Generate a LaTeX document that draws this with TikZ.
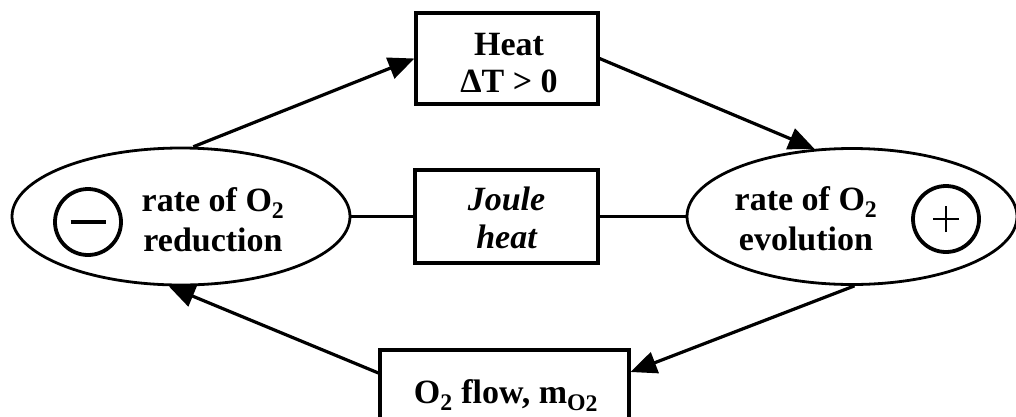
\documentclass[tikz,border=0pt]{standalone}
\usepackage{fontspec}
\setmainfont{Liberation Serif}
\usetikzlibrary{shapes.geometric,arrows.meta}
\begin{document}
\begin{tikzpicture}[x=1pt,y=-1pt,
  lbl/.style={font=\fontsize{34}{38}\selectfont\bfseries, align=center, inner sep=0pt},
  boxnode/.style={draw, line width=3.2pt, rectangle, inner sep=0pt},
  ell/.style={draw, line width=2.8pt, ellipse, inner sep=0pt},
  sign/.style={draw, line width=3.8pt, circle, minimum size=66pt, inner sep=0pt},
  conn/.style={line width=3.2pt},
  arr/.style={conn, -{Triangle[length=26pt,width=22pt]}}
]
\useasboundingbox (0,0) rectangle (1016,416);
% boxes
\node[boxnode, minimum width=182pt, minimum height=91pt] (T) at (507,58.5) {};
\node[lbl, font=\fontsize{34}{37}\selectfont\bfseries] (Ttxt) at (509,63) {Heat\\ΔT > 0};
\node[boxnode, minimum width=183pt, minimum height=93pt] (J) at (506.5,216.5) {};
\node[lbl, font=\fontsize{34}{38}\selectfont\bfseries\itshape] (Jtxt) at (506.5,218) {Joule\\heat};
\node[boxnode, minimum width=249pt, minimum height=84pt] (B) at (504.5,392) {};
\node[lbl, anchor=base] (Btxt) at (506,403) {O\textsubscript{2} flow, m\textsubscript{O\raisebox{-1.2pt}{2}}};
% ellipses
\node[ell, minimum width=338pt, minimum height=137pt] (L) at (181,216.5) {};
\node[ell, minimum width=330pt, minimum height=136pt] (R) at (852,216.5) {};
\node[lbl, font=\fontsize{34}{40}\selectfont\bfseries] (Ltxt) at (213,220) {rate of O\textsubscript{2}\\reduction};
\node[lbl, font=\fontsize{34}{40}\selectfont\bfseries] (Rtxt) at (806,219) {rate of O\textsubscript{2}\\evolution};
% signs
\node[sign] (M) at (88,222) {};
\draw[line width=4pt] ([xshift=-17.5pt]M.center) -- ([xshift=17.5pt]M.center);
\node[sign] (P) at (946,219) {};
\draw[line width=2.2pt] ([xshift=-13pt]P.center) -- ([xshift=13pt]P.center);
\draw[line width=2.2pt] ([yshift=-13pt]P.center) -- ([yshift=13pt]P.center);
% connectors
\draw[arr] (L.80) -- (T.west);
\draw[arr] (T.east) -- (R.119);
\draw[arr] (R.-88) -- ([yshift=20pt]B.east);
\draw[arr] ([yshift=19pt]B.west) -- (L.-100);
\draw[conn] (L.east) -- (J.west);
\draw[conn] (J.east) -- (R.west);
\end{tikzpicture}
\end{document}
